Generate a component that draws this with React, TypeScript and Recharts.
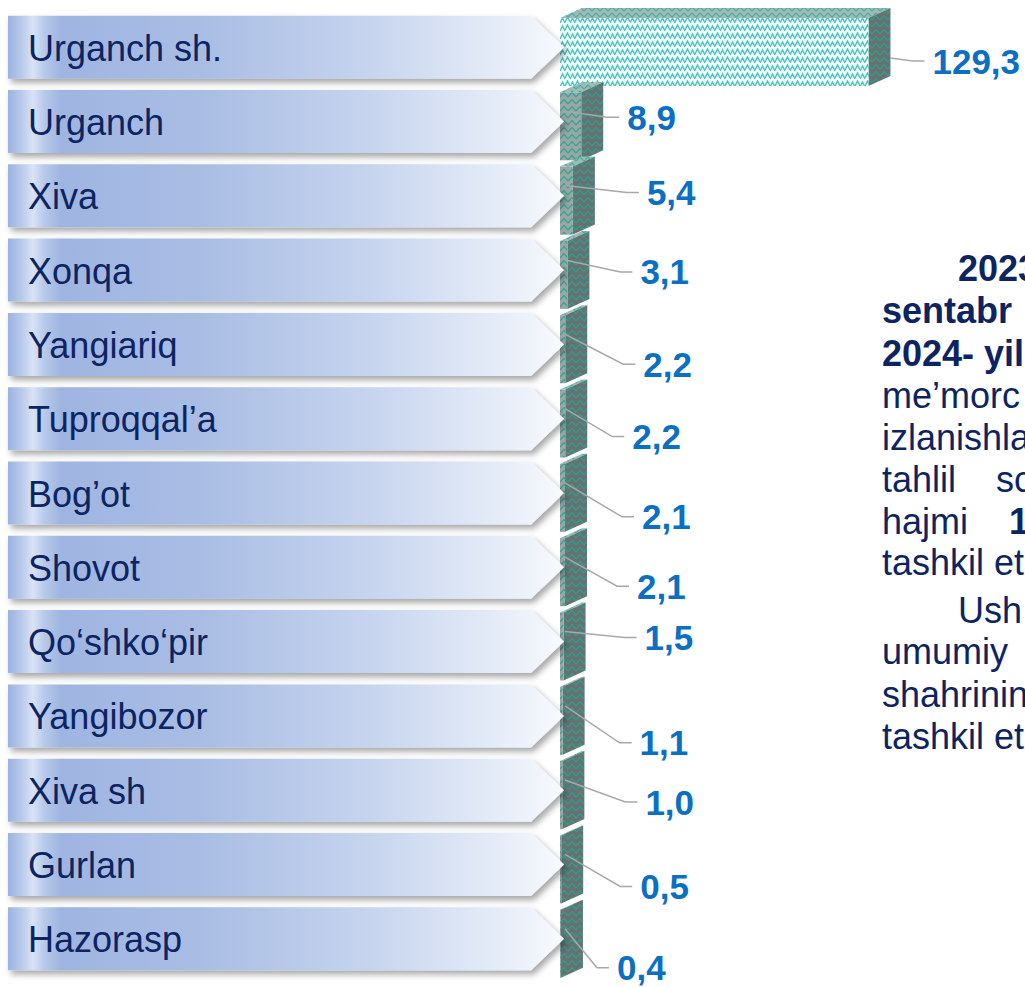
import React from 'react';
import { BarChart, Bar, XAxis, YAxis, LabelList } from 'recharts';

// districts, top to bottom
const districts = [
  'Urganch sh.', 'Urganch', 'Xiva', 'Xonqa', 'Yangiariq', 'Tuproqqal’a', 'Bog’ot',
  'Shovot', 'Qo‘shko‘pir', 'Yangibozor', 'Xiva sh', 'Gurlan', 'Hazorasp',
];
const volumes = [129.3, 8.9, 5.4, 3.1, 2.2, 2.2, 2.1, 2.1, 1.5, 1.1, 1.0, 0.5, 0.4];

// where each value label sits, relative to the end of its bar
const labelDx = [42, 24, 52, 51, 56, 45, 55, 50, 59, 55, 61, 57, 34];
const labelDy = [14, -4, -3, 2, 20, 18, 24, 19, -4, 27, 12, 22, 29];

// text block to the right (cut off by the slide edge)
const noteLines = [
  { parts: [{ t: '2023', x: 958, b: true }], y: 268 },
  { parts: [{ t: 'sentabr', x: 882, b: true }], y: 310 },
  { parts: [{ t: '2024- yil', x: 882, b: true }], y: 353 },
  { parts: [{ t: 'me’morc', x: 882 }], y: 395 },
  { parts: [{ t: 'izlanishla', x: 882 }], y: 437 },
  { parts: [{ t: 'tahlil', x: 882 }, { t: 'sc', x: 996 }], y: 479 },
  { parts: [{ t: 'hajmi', x: 882 }, { t: '1', x: 1009, b: true }], y: 521 },
  { parts: [{ t: 'tashkil et', x: 882 }], y: 562 },
  { parts: [{ t: 'Ush', x: 958 }], y: 610 },
  { parts: [{ t: 'umumiy', x: 882 }], y: 651 },
  { parts: [{ t: 'shahrinin', x: 882 }], y: 694 },
  { parts: [{ t: 'tashkil et', x: 882 }], y: 736 },
];

const data = districts.map((name, i) => ({ name, value: volumes[i] }));

const FONT = '"Liberation Sans", Arial, sans-serif';
const DEPTH = 22;
const RISE = 10;

const fmt = (v: number) => v.toFixed(1).replace('.', ',');

const ArrowTick = (props: any) => {
  const { x, y, payload } = props;
  const tip = x + 4;
  const half = 31.5;
  const body = tip - 33;
  const left = 8;
  return (
    <g>
      <polygon
        points={`${left},${y - half} ${body},${y - half} ${tip},${y} ${body},${y + half} ${left},${y + half}`}
        fill="url(#arrowGrad)"
        filter="url(#arrowShadow)"
      />
      <text x={28} y={y + 1} dominantBaseline="central" fontSize={36} fontFamily={FONT} fill="#0c2461">
        {payload.value}
      </text>
    </g>
  );
};

const Box3D = (props: any) => {
  const { x, y, width, height, index } = props;
  const w = Math.max(width, 0);
  const fy = y + 5;
  return (
    <g>
      <polygon
        points={`${x},${fy} ${x + DEPTH},${fy - RISE} ${x + w + DEPTH},${fy - RISE} ${x + w},${fy}`}
        fill="url(#topPat)"
      />
      <polygon
        points={`${x + w},${fy} ${x + w + DEPTH},${fy - RISE} ${x + w + DEPTH},${fy + height - RISE} ${x + w},${fy + height}`}
        fill="url(#sidePat)"
      />
      <rect x={x} y={fy} width={w} height={height} fill={index === 0 ? 'url(#frontPat)' : 'url(#greyPat)'} />
    </g>
  );
};

const ValueLabel = (props: any) => {
  const { x, y, width, height, index, value } = props;
  const cy = y + height / 2;
  const end = x + width + DEPTH;
  const tx = end + labelDx[index];
  const ty = cy + labelDy[index];
  const sx = index === 0 ? end : x + 5;
  const sy = index === 0 ? ty - 3 : cy - 10;
  return (
    <g>
      <polyline
        points={`${sx},${sy} ${tx - 20},${ty} ${tx - 8},${ty}`}
        stroke="#a8a8a8"
        strokeWidth={1.5}
        fill="none"
      />
      <text
        x={tx}
        y={ty}
        dominantBaseline="central"
        fontSize={35}
        fontWeight="bold"
        fontFamily={FONT}
        fill="#0b6fc3"
      >
        {fmt(Number(value))}
      </text>
    </g>
  );
};

export default function App() {
  return (
    <div
      style={{
        position: 'absolute',
        left: 0,
        top: 0,
        width: 1025,
        height: 987,
        overflow: 'hidden',
        background: '#ffffff',
        fontFamily: FONT,
      }}
    >
      <BarChart
        width={1025}
        height={987}
        data={data}
        layout="vertical"
        margin={{ top: 10, right: 131, bottom: 11, left: 0 }}
        barSize={68}
      >
        <defs>
          <linearGradient id="arrowGrad" x1="0" y1="0" x2="1" y2="0">
            <stop offset="0" stopColor="#9cb2df" />
            <stop offset="0.025" stopColor="#b9caeb" />
            <stop offset="0.045" stopColor="#d9e3f5" />
            <stop offset="0.065" stopColor="#b8c9ea" />
            <stop offset="0.095" stopColor="#9fb5e1" />
            <stop offset="0.35" stopColor="#a9bde4" />
            <stop offset="0.65" stopColor="#c6d4ee" />
            <stop offset="0.88" stopColor="#e5ecf8" />
            <stop offset="1" stopColor="#f8fafd" />
          </linearGradient>
          <filter id="arrowShadow" x="-5%" y="-30%" width="112%" height="170%">
            <feDropShadow dx="3" dy="4" stdDeviation="3" floodColor="#000000" floodOpacity="0.35" />
          </filter>
          <pattern id="frontPat" width="10" height="8" patternUnits="userSpaceOnUse">
            <rect width="10" height="8" fill="#f4fbfb" />
            <path d="M0 7 L2.5 2 L5 7 M5 6 L7.5 1 L10 6" stroke="#45c6bf" strokeWidth="1.4" fill="none" />
          </pattern>
          <pattern id="topPat" width="8" height="6" patternUnits="userSpaceOnUse">
            <rect width="8" height="6" fill="#a7b8b4" />
            <path d="M0 5 L4 1 L8 5" stroke="#34b4aa" strokeWidth="1.1" fill="none" />
          </pattern>
          <pattern id="sidePat" width="8" height="7" patternUnits="userSpaceOnUse">
            <rect width="8" height="7" fill="#6a706e" />
            <path d="M0 6 L4 1.5 L8 6" stroke="#2c9d92" strokeWidth="1.3" fill="none" />
          </pattern>
          <pattern id="greyPat" width="8" height="7" patternUnits="userSpaceOnUse">
            <rect width="8" height="7" fill="#9ea6a4" />
            <path d="M0 6 L4 1.5 L8 6" stroke="#2fa79c" strokeWidth="1.3" fill="none" />
          </pattern>
        </defs>
        <XAxis type="number" domain={[0, 140]} hide />
        <YAxis
          type="category"
          dataKey="name"
          width={560}
          axisLine={false}
          tickLine={false}
          tickSize={0}
          tickMargin={0}
          interval={0}
          tick={<ArrowTick />}
        />
        <Bar dataKey="value" shape={<Box3D />} isAnimationActive={false}>
          <LabelList dataKey="value" content={<ValueLabel />} />
        </Bar>
      </BarChart>
      <svg
        width={1025}
        height={987}
        style={{ position: 'absolute', left: 0, top: 0, pointerEvents: 'none' }}
      >
        {noteLines.map((line, i) =>
          line.parts.map((p, j) => (
            <text
              key={`${i}-${j}`}
              x={p.x}
              y={line.y}
              dominantBaseline="central"
              fontSize={36}
              fontWeight={p.b ? 'bold' : 'normal'}
              fontFamily={FONT}
              fill="#0d2463"
            >
              {p.t}
            </text>
          ))
        )}
      </svg>
    </div>
  );
}
